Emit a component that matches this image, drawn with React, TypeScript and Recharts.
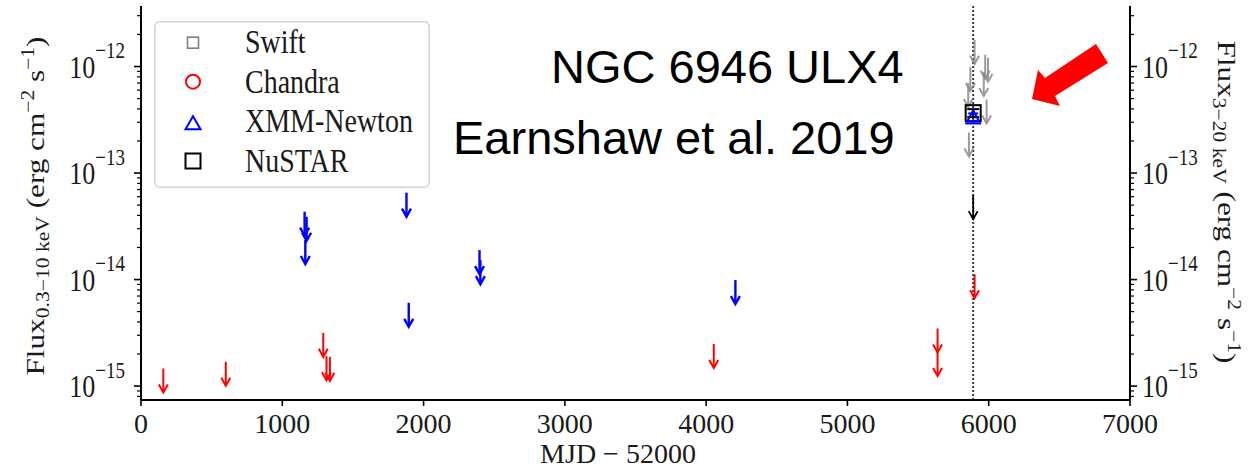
import React from 'react';
import { ComposedChart, Scatter, XAxis, YAxis, ReferenceLine, Legend } from 'recharts';

// ---------- data ----------
const xTicks = [0, 1000, 2000, 3000, 4000, 5000, 6000, 7000];
const yDomain: [number, number] = [7.4e-16, 3.7e-12];
const decades = [-16, -15, -14, -13, -12];
const mantissas = [1, 2, 3, 4, 5, 6, 7, 8, 9];

// Chandra upper limits (MJD-52000, flux)
const chandraMJD = [158, 600, 1290, 1313, 1337, 4054, 5638, 5638, 5900];
const chandraFlux = [1.46e-15, 1.69e-15, 3.16e-15, 1.91e-15, 1.88e-15, 2.48e-15, 3.47e-15, 2.09e-15, 1.12e-14];

// XMM-Newton upper limits
const xmmMJD = [1158, 1172, 1163, 1879, 1895, 2396, 2402, 4207];
const xmmFlux = [4.34e-14, 3.89e-14, 2.35e-14, 6.54e-14, 6.05e-15, 1.89e-14, 1.52e-14, 9.89e-15];

// XMM-Newton detection
const xmmDetMJD = [5890];
const xmmDetFlux = [3.4e-13];

// NuSTAR detection and upper limit
const nustarDetMJD = [5890];
const nustarDetFlux = [3.65e-13];
const nustarLimMJD = [5890];
const nustarLimFlux = [6.2e-14];

// Swift upper limits
const swiftMJD = [5900, 5870, 5855, 5975, 5995, 5965, 5985, 5860];
const swiftFlux = [1.78e-12, 9.9e-13, 7.0e-13, 1.29e-12, 1.21e-12, 8.9e-13, 4.9e-13, 2.4e-13];

const nustarEpoch = 5890;
const legendNames = ['Swift', 'Chandra', 'XMM-Newton', 'NuSTAR'];
const titleLines = ['NGC 6946 ULX4', 'Earnshaw et al. 2019'];

// ---------- helpers ----------
const toPoints = (xs: number[], ys: number[]) => xs.map((x, i) => ({ x, y: ys[i] }));
const yTicks: number[] = [];
decades.forEach((e) =>
  mantissas.forEach((m) => {
    const v = m * Math.pow(10, e);
    if (v >= yDomain[0] && v <= yDomain[1]) yTicks.push(v);
  })
);
const expOf = (v: number) => Math.round(Math.log10(v));
const isMajor = (v: number) => Math.abs(v / Math.pow(10, expOf(v)) - 1) < 1e-6;

const SERIF = '"Liberation Serif", "DejaVu Serif", serif';
const SANS = '"Liberation Sans", Arial, sans-serif';
const TXT = '#1a1a1a';

const makeArrow = (color: string, width: number, opacity = 1) => (props: any) => {
  const { cx, cy } = props;
  if (cx == null || cy == null) return <g />;
  const len = 24;
  const tip = cy + len;
  return (
    <g stroke={color} strokeWidth={width} fill="none" opacity={opacity}>
      <line x1={cx} y1={cy} x2={cx} y2={tip - 1} />
      <path d={`M${cx - 4.5},${tip - 8} L${cx},${tip} L${cx + 4.5},${tip - 8}`} />
    </g>
  );
};

const SquareShape = (props: any) => {
  const { cx, cy } = props;
  if (cx == null || cy == null) return <g />;
  return (
    <g stroke="#000" strokeWidth={2} fill="none">
      <rect x={cx - 7.5} y={cy - 8} width={15} height={16} />
      <line x1={cx - 6} x2={cx + 6} y1={cy - 4} y2={cy - 4} />
      <line x1={cx - 6} x2={cx + 6} y1={cy + 4} y2={cy + 4} />
      <line x1={cx} x2={cx} y1={cy - 4} y2={cy + 4} />
    </g>
  );
};

const TriangleShape = (props: any) => {
  const { cx, cy } = props;
  if (cx == null || cy == null) return <g />;
  return (
    <g stroke="#0000ff" strokeWidth={2} fill="none">
      <path d={`M${cx},${cy - 6} L${cx - 6},${cy + 5} L${cx + 6},${cy + 5} Z`} />
      <line x1={cx - 8} x2={cx + 8} y1={cy + 7} y2={cy + 7} />
      <line x1={cx - 5} x2={cx + 5} y1={cy - 3} y2={cy - 3} />
    </g>
  );
};

const LeftTick = (props: any) => {
  const { x, y, payload } = props;
  const v = payload.value;
  const major = isMajor(v);
  return (
    <g>
      <line x1={x - (major ? 7 : 4)} x2={x} y1={y} y2={y} stroke="#000" strokeWidth={major ? 1.6 : 1.2} />
      {major && (
        <text transform={`translate(${x - 16},${y + 11}) scale(1,1.2)`} textAnchor="end" fontFamily={SERIF} fill={TXT}>
          <tspan fontSize={26}>10</tspan>
          <tspan fontSize={19} dy={-16}>{'\u2212' + Math.abs(expOf(v))}</tspan>
        </text>
      )}
    </g>
  );
};

const RightTick = (props: any) => {
  const { x, y, payload } = props;
  const v = payload.value;
  const major = isMajor(v);
  return (
    <g>
      <line x1={x} x2={x + (major ? 7 : 4)} y1={y} y2={y} stroke="#000" strokeWidth={major ? 1.6 : 1.2} />
      {major && (
        <text transform={`translate(${x + 12},${y + 11}) scale(1,1.2)`} textAnchor="start" fontFamily={SERIF} fill={TXT}>
          <tspan fontSize={26}>10</tspan>
          <tspan fontSize={19} dy={-16}>{'\u2212' + Math.abs(expOf(v))}</tspan>
        </text>
      )}
    </g>
  );
};

const BottomTick = (props: any) => {
  const { x, y, payload } = props;
  return (
    <g>
      <line x1={x} x2={x} y1={y} y2={y + 6} stroke="#000" strokeWidth={1.6} />
      <text x={x} y={y + 33} textAnchor="middle" fontFamily={SERIF} fontSize={28} fill={TXT}>
        {String(payload.value)}
      </text>
    </g>
  );
};

const LegendBox = () => {
  const rows = [
    { base: 32, my: 21.7 },
    { base: 72, my: 60.7 },
    { base: 111, my: 102.3 },
    { base: 150.5, my: 140 },
  ];
  const mx = 39;
  return (
    <svg width={276} height={167} style={{ display: 'block' }}>
      <rect x={0.75} y={0.75} width={274.5} height={165.5} rx={5} fill="#fff" fillOpacity={0.85} stroke="#d4d4d4" strokeWidth={1.5} />
      <rect x={mx - 5.5} y={rows[0].my - 5.5} width={11} height={11} fill="none" stroke="#808080" strokeWidth={1.6} />
      <circle cx={mx} cy={rows[1].my} r={7} fill="none" stroke="#ff0000" strokeWidth={2} />
      <path d={`M${mx},${rows[2].my - 7} L${mx - 7.5},${rows[2].my + 6} L${mx + 7.5},${rows[2].my + 6} Z`} fill="none" stroke="#0000ff" strokeWidth={2} />
      <rect x={mx - 7.5} y={rows[3].my - 7.5} width={15} height={15} fill="none" stroke="#000" strokeWidth={2} />
      {legendNames.map((n, i) => (
        <text key={n} transform={`translate(91,${rows[i].base}) scale(1,1.2)`} fontFamily={SERIF} fontSize={28} fill={TXT}>
          {n}
        </text>
      ))}
    </svg>
  );
};

export default function App() {
  return (
    <div style={{ position: 'absolute', left: 0, top: 0, width: 1248, height: 471, background: '#fff', overflow: 'hidden' }}>
      <ComposedChart width={1248} height={471} margin={{ top: 6, right: 0, bottom: 0, left: 0 }}>
        <XAxis
          dataKey="x"
          type="number"
          domain={[0, 7000]}
          ticks={xTicks}
          interval={0}
          height={71}
          tickSize={0}
          tickMargin={0}
          tickLine={false}
          tick={<BottomTick />}
          axisLine={{ stroke: '#000', strokeWidth: 2 }}
          allowDataOverflow
        />
        <XAxis xAxisId="top" orientation="top" type="number" domain={[0, 7000]} height={0} tick={false} tickLine={false} axisLine={{ stroke: '#000', strokeWidth: 2 }} />
        <YAxis
          yAxisId="left"
          dataKey="y"
          type="number"
          scale="log"
          domain={yDomain}
          ticks={yTicks}
          interval={0}
          width={141}
          tickSize={0}
          tickMargin={0}
          tickLine={false}
          tick={<LeftTick />}
          axisLine={{ stroke: '#000', strokeWidth: 2 }}
          allowDataOverflow
        />
        <YAxis
          yAxisId="right"
          orientation="right"
          dataKey="y"
          type="number"
          scale="log"
          domain={yDomain}
          ticks={yTicks}
          interval={0}
          width={118}
          tickSize={0}
          tickMargin={0}
          tickLine={false}
          tick={<RightTick />}
          axisLine={{ stroke: '#000', strokeWidth: 2 }}
          allowDataOverflow
        />
        <Scatter name="Swift" yAxisId="left" data={toPoints(swiftMJD, swiftFlux)} shape={makeArrow('#8a8a8a', 2, 0.85)} isAnimationActive={false} />
        <Scatter name="Chandra" yAxisId="left" data={toPoints(chandraMJD, chandraFlux)} shape={makeArrow('#ff0000', 2)} isAnimationActive={false} />
        <Scatter name="XMM-Newton" yAxisId="left" data={toPoints(xmmMJD, xmmFlux)} shape={makeArrow('#0000ff', 2.4)} isAnimationActive={false} />
        <Scatter name="NuSTAR limit" yAxisId="left" data={toPoints(nustarLimMJD, nustarLimFlux)} shape={makeArrow('#000', 1.8)} isAnimationActive={false} />
        <Scatter name="NuSTAR" yAxisId="left" data={toPoints(nustarDetMJD, nustarDetFlux)} shape={<SquareShape />} isAnimationActive={false} />
        <Scatter name="XMM det" yAxisId="left" data={toPoints(xmmDetMJD, xmmDetFlux)} shape={<TriangleShape />} isAnimationActive={false} />
        <ReferenceLine yAxisId="left" x={nustarEpoch} stroke="#3a3a3a" strokeWidth={2} strokeDasharray="2 2" />
        <Legend
          verticalAlign="middle"
          align="center"
          layout="horizontal"
          wrapperStyle={{ position: 'absolute', left: 154, top: 21, width: 276, height: 167, margin: 0, padding: 0 }}
          content={() => <LegendBox />}
        />
      </ComposedChart>
      <svg width={1248} height={471} style={{ position: 'absolute', left: 0, top: 0, pointerEvents: 'none' }}>
        <text fontFamily={SANS} fontSize={47} fill="#000" x={551} y={83}>{titleLines[0]}</text>
        <text fontFamily={SANS} fontSize={47} fill="#000" x={453} y={154}>{titleLines[1]}</text>
        <polygon points="1096,44 1045,78 1038,70 1032,99 1060,106 1055,96 1108,63" fill="#ff0000" />
        <text transform="translate(44,206) rotate(-90) scale(1.2,1)" textAnchor="middle" fontFamily={SERIF} fontSize={26} fill={TXT}>
          Flux
          <tspan fontSize={18} dy={5}>0.3{'\u2212'}10 keV</tspan>
          <tspan dy={-5}> (erg cm</tspan>
          <tspan fontSize={18} dy={-10}>{'\u2212'}2</tspan>
          <tspan dy={10}> s</tspan>
          <tspan fontSize={18} dy={-10}>{'\u2212'}1</tspan>
          <tspan dy={10}>)</tspan>
        </text>
        <text transform="translate(1218,202) rotate(90) scale(1.2,1)" textAnchor="middle" fontFamily={SERIF} fontSize={26} fill={TXT}>
          Flux
          <tspan fontSize={18} dy={5}>3{'\u2212'}20 keV</tspan>
          <tspan dy={-5}> (erg cm</tspan>
          <tspan fontSize={18} dy={-10}>{'\u2212'}2</tspan>
          <tspan dy={10}> s</tspan>
          <tspan fontSize={18} dy={-10}>{'\u2212'}1</tspan>
          <tspan dy={10}>)</tspan>
        </text>
        <text x={618} y={463} textAnchor="middle" fontFamily={SERIF} fontSize={28} fill={TXT}>
          MJD {'\u2212'} 52000
        </text>
      </svg>
    </div>
  );
}
